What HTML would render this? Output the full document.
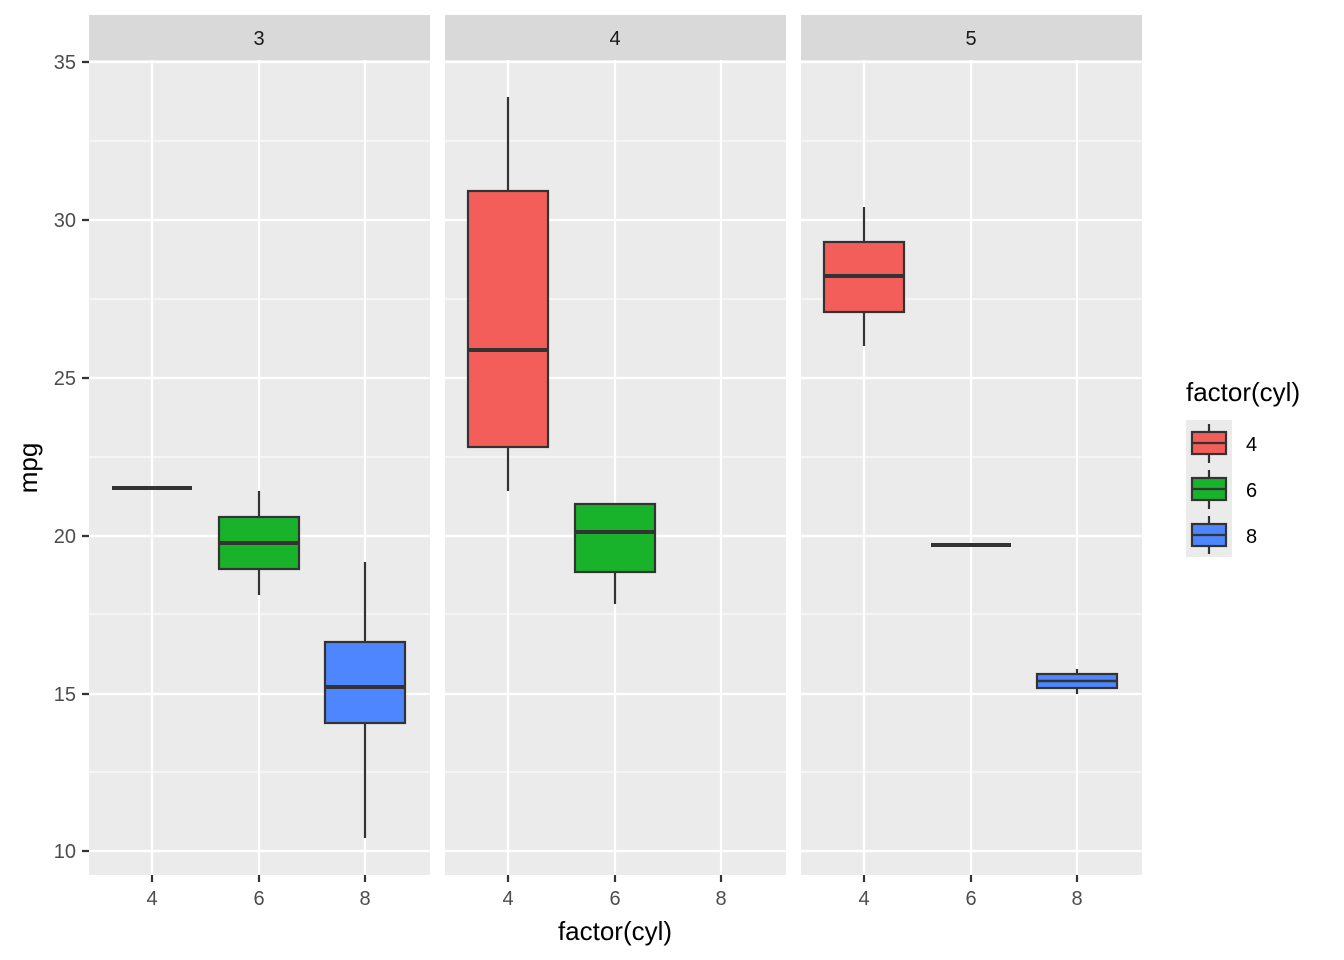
<!DOCTYPE html>
<html><head><meta charset="utf-8"><style>body{margin:0;background:#fff}svg{display:block}text{font-family:"Liberation Sans",Arial,sans-serif}</style></head><body>
<svg width="1344" height="960" xmlns="http://www.w3.org/2000/svg">
<g id="panels">
<rect x="89" y="15" width="341" height="45" fill="#d9d9d9"/>
<rect x="445" y="15" width="341" height="45" fill="#d9d9d9"/>
<rect x="801" y="15" width="341" height="45" fill="#d9d9d9"/>
<text x="259" y="45" font-size="20" text-anchor="middle" fill="#1a1a1a">3</text>
<text x="615" y="45" font-size="20" text-anchor="middle" fill="#1a1a1a">4</text>
<text x="971" y="45" font-size="20" text-anchor="middle" fill="#1a1a1a">5</text>
<rect x="89" y="60" width="341" height="815" fill="#ebebeb"/>
<rect x="445" y="60" width="341" height="815" fill="#ebebeb"/>
<rect x="801" y="60" width="341" height="815" fill="#ebebeb"/>
</g>
<g stroke="#fff" fill="none">
<g stroke-width="1.1">
<path d="M89 141H430M445 141H786M801 141H1142 M89 299H430M445 299H786M801 299H1142 M89 457H430M445 457H786M801 457H1142 M89 614H430M445 614H786M801 614H1142 M89 772H430M445 772H786M801 772H1142"/>
</g>
<g stroke-width="2.2">
<path d="M89 62H430M445 62H786M801 62H1142 M89 220H430M445 220H786M801 220H1142 M89 378H430M445 378H786M801 378H1142 M89 536H430M445 536H786M801 536H1142 M89 694H430M445 694H786M801 694H1142 M89 851H430M445 851H786M801 851H1142"/>
<path d="M152 60V875M259 60V875M365 60V875M508 60V875M615 60V875M721 60V875M864 60V875M971 60V875M1077 60V875"/>
</g>
</g>
<g stroke="#333" stroke-width="2.2">
<line x1="112" y1="488" x2="192" y2="488" stroke-width="4"/>
<line x1="259" y1="491" x2="259" y2="517"/><line x1="259" y1="569" x2="259" y2="595"/>
<rect x="219" y="517" width="80" height="52" fill="#19b22b"/>
<line x1="219" y1="543" x2="299" y2="543" stroke-width="4"/>
<line x1="365" y1="562" x2="365" y2="642"/><line x1="365" y1="723" x2="365" y2="838"/>
<rect x="325" y="642" width="80" height="81" fill="#4d86ff"/>
<line x1="325" y1="687" x2="405" y2="687" stroke-width="4"/>
<line x1="508" y1="97" x2="508" y2="191"/><line x1="508" y1="447" x2="508" y2="491"/>
<rect x="468" y="191" width="80" height="256" fill="#f35e5a"/>
<line x1="468" y1="350" x2="548" y2="350" stroke-width="4"/>
<line x1="615" y1="572" x2="615" y2="604"/>
<rect x="575" y="504" width="80" height="68" fill="#19b22b"/>
<line x1="575" y1="532" x2="655" y2="532" stroke-width="4"/>
<line x1="864" y1="207" x2="864" y2="242"/><line x1="864" y1="312" x2="864" y2="346"/>
<rect x="824" y="242" width="80" height="70" fill="#f35e5a"/>
<line x1="824" y1="276" x2="904" y2="276" stroke-width="4"/>
<line x1="931" y1="545" x2="1011" y2="545" stroke-width="4"/>
<line x1="1077" y1="669" x2="1077" y2="694"/>
<rect x="1037" y="674" width="80" height="14" fill="#4d86ff"/>
<line x1="1037" y1="681" x2="1117" y2="681" stroke-width="2.5"/>
<path d="M82 62H89M82 220H89M82 378H89M82 536H89M82 694H89M82 851H89" stroke="#333"/>
<path d="M152 875V882M259 875V882M365 875V882M508 875V882M615 875V882M721 875V882M864 875V882M971 875V882M1077 875V882" stroke="#333"/>
</g>
<g font-size="20" fill="#4d4d4d" text-anchor="end">
<text x="76" y="69">35</text><text x="76" y="227">30</text><text x="76" y="385">25</text><text x="76" y="543">20</text><text x="76" y="701">15</text><text x="76" y="858">10</text>
</g>
<g font-size="20" fill="#4d4d4d" text-anchor="middle">
<text x="152" y="905">4</text><text x="259" y="905">6</text><text x="365" y="905">8</text>
<text x="508" y="905">4</text><text x="615" y="905">6</text><text x="721" y="905">8</text>
<text x="864" y="905">4</text><text x="971" y="905">6</text><text x="1077" y="905">8</text>
</g>
<text x="615" y="940" font-size="26" text-anchor="middle" fill="#000">factor(cyl)</text>
<text transform="translate(37 468) rotate(-90)" font-size="26" text-anchor="middle" fill="#000">mpg</text>
<text x="1186" y="401" font-size="26" fill="#000">factor(cyl)</text>
<rect x="1186" y="420" width="46" height="137" fill="#ebebeb"/>
<g stroke="#333" stroke-width="2.2">
<line x1="1209" y1="424" x2="1209" y2="463"/><rect x="1192" y="432" width="34" height="22" fill="#f35e5a"/><line x1="1192" y1="443" x2="1226" y2="443"/>
<line x1="1209" y1="470" x2="1209" y2="509"/><rect x="1192" y="478" width="34" height="22" fill="#19b22b"/><line x1="1192" y1="489" x2="1226" y2="489"/>
<line x1="1209" y1="516" x2="1209" y2="554"/><rect x="1192" y="524" width="34" height="22" fill="#4d86ff"/><line x1="1192" y1="535" x2="1226" y2="535"/>
</g>
<g font-size="20" fill="#000">
<text x="1246" y="451">4</text><text x="1246" y="497">6</text><text x="1246" y="543">8</text>
</g>
</svg>
</body></html>
